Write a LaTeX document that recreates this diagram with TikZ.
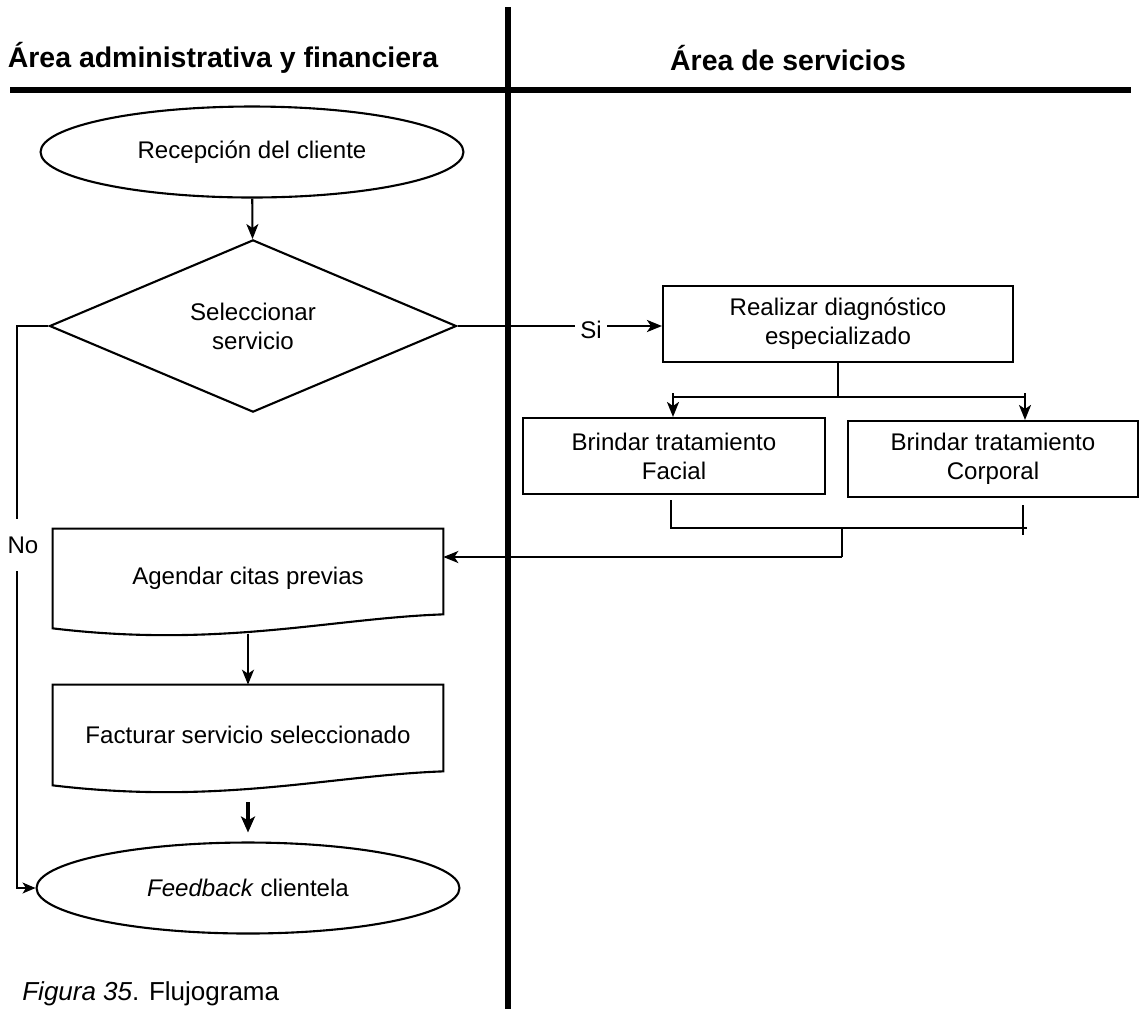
\documentclass[tikz,border=0pt]{standalone}
\usepackage{fontspec}
\setmainfont{Liberation Sans}
\usetikzlibrary{shapes.geometric,arrows.meta,calc}

\begin{document}
\begin{tikzpicture}[x=0.02cm,y=-0.02cm]
\tikzstyle{txt}=[font=\fontsize{13.7}{16.4}\selectfont, align=center, inner sep=0pt]
\tikzstyle{term}=[txt, draw, ellipse, line width=1.2pt, minimum width=8.46cm, minimum height=1.82cm]
\tikzstyle{decision}=[txt, draw, diamond, line width=1.2pt, minimum width=8.14cm, minimum height=3.02cm]
\tikzstyle{process}=[txt, draw, rectangle, line width=1.2pt, minimum height=1.52cm]
\tikzstyle{docbox}=[txt, rectangle, minimum width=7.8cm]
\tikzstyle{head}=[font=\fontsize{16.2}{19}\selectfont\bfseries, inner sep=0pt]
\tikzstyle{thin}=[line width=0.6pt]
\tikzstyle{flow}=[line width=1.2pt, -{Stealth[length=0.3cm,width=0.24cm,inset=0.08cm]}]

\useasboundingbox (0,0) rectangle (1145,1009);

% lanes
\draw[line width=3.4pt] (508,7) -- (508,1009);
\draw[line width=3.4pt] (10,90) -- (1131,90);
\node[head] (admin) at (223,58) {Área administrativa y financiera};
\node[head] (serv) at (788,58) {Área de servicios};

% steps
\node[term] (recep) at (252,152) {Recepción del cliente};
\node[decision] (selec) at (253,326) {Seleccionar\\servicio};
\node[process, minimum width=7cm] (diag) at (838,324) {Realizar diagnóstico\\especializado};
\node[process, minimum width=6.04cm] (facial) at (674,456) {Brindar tratamiento\\Facial};
\node[process, minimum width=5.8cm] (corporal) at (993,459) {Brindar tratamiento\\Corporal};
\node[docbox, minimum height=1.98cm] (agendar) at (248,578.5) {Agendar citas previas};
\node[docbox, minimum height=2cm] (factura) at (248,735) {Facturar servicio seleccionado};
\node[term] (feedback) at (248,888) {\textit{Feedback} clientela};

% document outlines
\foreach \d in {agendar,factura}
  \draw[line width=1.2pt] (\d.north west) -- (\d.north east) -- ([yshift=0.28cm]\d.south east)
    .. controls ([xshift=-2.26cm,yshift=0.2cm]\d.south east) and ([xshift=3.34cm,yshift=-0.4cm]\d.south west) .. (\d.south west) -- cycle;

% yes / no
\draw[flow] (recep) -- (selec);
\node[txt] (si) at (591,330) {Si};
\draw[thin] (selec.east) -- ([xshift=-0.1cm]si.west |- selec.east);
\draw[flow, line width=1.5pt] ([xshift=0.1cm]si.east |- selec.east) -- (diag.west |- selec.east);

\node[txt, inner ysep=0.35cm] (no) at (23,545) {No};
\coordinate (nl) at (17,326);
\draw[thin] (selec.west) -- (nl) -- (nl |- no.north);
\draw[thin, -{Stealth[length=0.26cm,width=0.22cm,inset=0.07cm]}] (nl |- no.south) |- (feedback.west);

% split to treatments
\coordinate (split) at (838,397);
\coordinate (brA) at (673,393);
\coordinate (brB) at (1025,393);
\draw[thin] (diag.south) -- (split);
\draw[thin] (brA |- split) -- (brB |- split);
\draw[flow] (brA) -- (brA |- facial.north);
\draw[flow] (brB) -- (brB |- corporal.north);

% back to agenda
\coordinate (jA) at (671,500);
\coordinate (jB) at (1023,505);
\coordinate (join) at (842,528);
\coordinate (back) at (842,557);
\draw[thin] (jA) |- ([xshift=0.08cm]jB |- join);
\draw[thin] (jB) -- ++(0,30);
\draw[thin] (join) -- (back);
\draw[flow] (back) -- (agendar.east |- back);

\draw[flow] ([yshift=-0.12cm]agendar.south) -- (factura.north);
\draw[line width=2.4pt, -{Stealth[length=0.32cm,width=0.28cm,inset=0.08cm]}] ([yshift=-0.34cm]factura.south) -- ([yshift=0.18cm]feedback.north);

\node[font=\fontsize{14.8}{17}\selectfont, anchor=west, inner sep=0pt] (caption) at (22,994) {\textit{Figura 35}. Flujograma};
\end{tikzpicture}
\end{document}
